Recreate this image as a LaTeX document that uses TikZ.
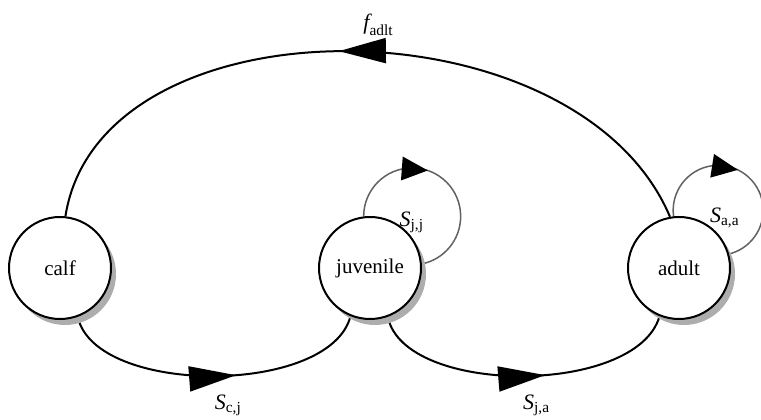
\documentclass[tikz,border=0pt]{standalone}
\usepackage{amsmath}
\usepackage{fontspec}
\setmainfont{Liberation Serif}
\usetikzlibrary{arrows.meta, positioning, calc, shadows, backgrounds, decorations.markings}
\tikzset{
    stage/.style={circle, draw=black, line width=2pt, fill=white, minimum size=102pt, inner sep=0pt, font=\fontsize{21}{25}\selectfont, drop shadow={shadow xshift=5pt, shadow yshift=-6pt, fill=black!32, opacity=1}},
    trans/.style={line width=2pt, draw=black},
    selfloop/.style={line width=1.5pt, draw=black!62},
    lbl/.style={font=\fontsize{22}{26}\selectfont, inner sep=0pt},
    midarr/.style={postaction={decorate}, decoration={markings, mark=at position #1 with {\arrow[black]{Triangle[length=47pt, width=25pt]}}}},
    loopar/.style 2 args={postaction={decorate}, decoration={markings, mark=at position #1 with {\fill[black, rotate=#2] (0,0) -- (-26pt,12pt) -- (-26pt,-12pt) -- cycle;}}},
}
\begin{document}
\begin{tikzpicture}[x=1pt, y=1pt]
\useasboundingbox (0,0) rectangle (761,420);
% stages
\node[stage] (calf) at (60,152) {calf};
\node[stage, right=206pt of calf] (juv) {juvenile};
\node[stage, right=205pt of juv] (adult) {adult};

\begin{scope}[on background layer]
% fecundity
\draw[trans, midarr=0.53] (adult.100) .. controls (577,423) and (100,425) .. (calf.84)
    node[lbl, pos=0.46, above=16pt] {$\textit{f}_{\text{adlt}}$};
% growth
\draw[trans, midarr=0.57] (calf.-70) .. controls (95,24) and (330,24) .. (juv.-112)
    node[lbl, pos=0.54, below=18pt] {$\textit{S}_{\text{c,j}}$};
\draw[trans, midarr=0.57] (juv.-70) .. controls (404,24) and (637,24) .. (adult.-112)
    node[lbl, pos=0.54, below=18pt] {$\textit{S}_{\text{j,a}}$};
% stay
\draw[selfloop, loopar={0.42}{14.5}] (juv.97) arc[start angle=180, end angle=-79, radius=48.5];
\draw[selfloop, loopar={0.465}{17}] (adult.96) arc[start angle=187.6, end angle=-78, radius=45];
\end{scope}
\node[lbl] (sjj) at ($(juv.97)+(48,-6)$) {$\textit{S}_{\text{j,j}}$};
\node[lbl] (saa) at ($(adult.96)+(51,-2)$) {$\textit{S}_{\text{a,a}}$};

\end{tikzpicture}
\end{document}
